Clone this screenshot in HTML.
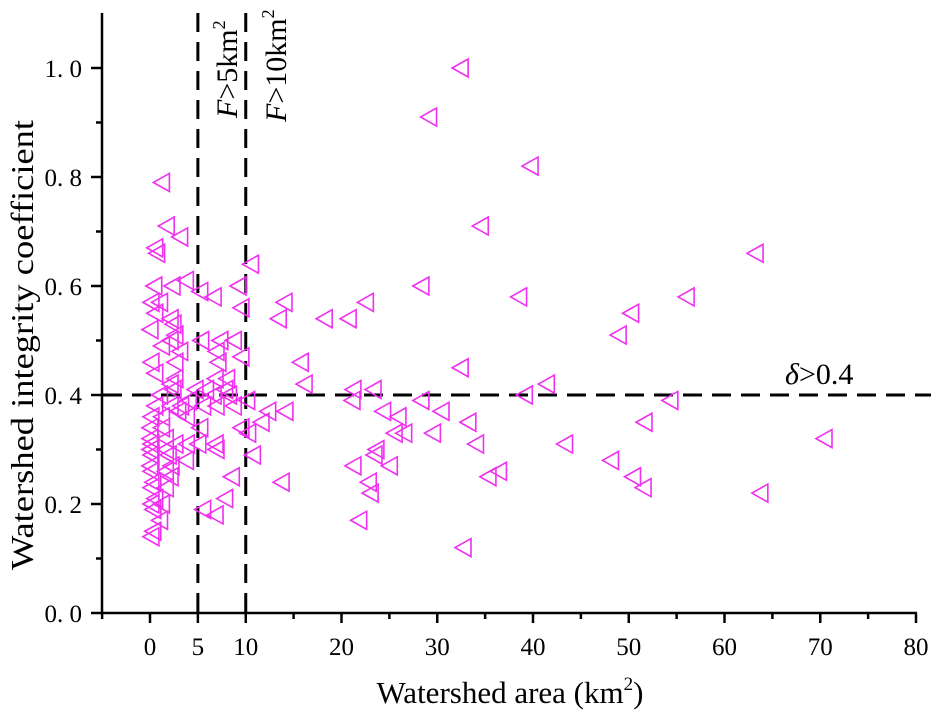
<!DOCTYPE html>
<html><head><meta charset="utf-8"><style>
body{margin:0;background:#fff;}
svg{display:block;font-family:"Liberation Serif","Noto Serif CJK SC",serif;}
</style></head><body>
<svg id="chart" width="931" height="715" viewBox="0 0 931 715" xmlns="http://www.w3.org/2000/svg">
<g id="axes"></g><g id="marks"></g>
<text transform="translate(33,345) rotate(-90)" text-anchor="middle" font-size="32" textLength="450" lengthAdjust="spacingAndGlyphs">Watershed integrity coefficient</text>
<text x="510" y="703" text-anchor="middle" font-size="31">Watershed area (km<tspan font-size="19" dy="-13">2</tspan><tspan dy="13">)</tspan></text>
<text x="785" y="384" font-size="30"><tspan font-style="italic">δ</tspan>&gt;0.4</text>
<text transform="translate(237,118) rotate(-90)" font-size="30"><tspan font-style="italic">F</tspan>&gt;5km<tspan font-size="18" dy="-12">2</tspan></text>
<text transform="translate(286,122) rotate(-90)" font-size="30"><tspan font-style="italic">F</tspan>&gt;10km<tspan font-size="18" dy="-12">2</tspan></text>
</svg>
<script>
const areas=[32.6,29.3,39.9,34.7,63.4,56.2,50.4,38.7,49.1,28.5,22.7,20.9,18.4,14.2,13.6,15.9,16.3,10.7,32.6,41.6,39.3,54.5,21.4,23.5,21.3,24.5,28.5,30.6,26.1,33.4,51.8,14.3,12.5,11.8,10.3,10.4,23.8,23.6,25.7,26.7,29.7,34.2,43.5,70.6,10.9,21.4,25.2,36.6,35.5,48.3,50.6,51.7,23.0,23.2,13.9,63.9,22.0,32.9,
1.4,1.9,3.3,0.7,0.9,3.9,2.5,0.6,5.4,6.8,9.4,9.7,0.3,1.2,0.7,2.3,2.6,0.2,2.8,5.5,7.5,8.9,2.3,1.4,3.3,7.1,2.8,0.3,7.3,9.7,0.7,2.8,7.0,8.2,2.3,2.6,4.9,6.0,8.0,1.2,4.2,6.8,8.4,0.7,2.3,3.4,5.7,7.1,8.9,3.1,4.0,0.3,1.4,5.4,9.7,0.2,1.4,0.2,1.8,0.3,2.8,4.0,7.0,0.2,1.8,5.2,7.1,0.3,2.1,3.9,0.2,2.4,1.8,0.3,2.3,0.5,8.7,1.8,0.3,0.7,8.0,1.4,0.3,0.5,5.7,7.0,1.2,0.5,0.3];
const coeffs=[1.0,0.91,0.82,0.71,0.66,0.58,0.55,0.58,0.51,0.60,0.57,0.54,0.54,0.57,0.54,0.46,0.42,0.64,0.45,0.42,0.40,0.39,0.41,0.41,0.39,0.37,0.39,0.37,0.36,0.35,0.35,0.37,0.37,0.35,0.39,0.33,0.30,0.29,0.33,0.33,0.33,0.31,0.31,0.32,0.29,0.27,0.27,0.26,0.25,0.28,0.25,0.23,0.24,0.22,0.24,0.22,0.17,0.12,
0.79,0.71,0.69,0.67,0.66,0.61,0.60,0.60,0.59,0.58,0.60,0.56,0.57,0.57,0.55,0.54,0.53,0.52,0.51,0.50,0.50,0.50,0.50,0.49,0.48,0.48,0.46,0.46,0.46,0.47,0.44,0.43,0.43,0.43,0.42,0.41,0.41,0.41,0.41,0.40,0.39,0.40,0.40,0.38,0.38,0.38,0.38,0.38,0.38,0.37,0.36,0.36,0.36,0.34,0.34,0.34,0.34,0.32,0.32,0.31,0.31,0.31,0.31,0.30,0.30,0.31,0.30,0.29,0.29,0.28,0.27,0.27,0.26,0.26,0.25,0.24,0.25,0.23,0.23,0.21,0.21,0.20,0.20,0.19,0.19,0.18,0.17,0.15,0.14];
const xTicks=[0,5,10,20,30,40,50,60,70,80];
const xMinor=[-5,15,25,35,45,55,65,75];
const yTicks=[0,0.2,0.4,0.6,0.8,1.0];
const yMinor=[0.1,0.3,0.5,0.7,0.9];
const yTickLabels=["0. 0","0. 2","0. 4","0. 6","0. 8","1. 0"];
const thresholdsX=[5,10];
const thresholdY=[0.4];
const X=v=>150+v*9.575;
const Y=v=>613-v*545;
const NS="http://www.w3.org/2000/svg";
const axes=document.getElementById('axes'),marks=document.getElementById('marks');
function mk(tag,attrs,parent){const e=document.createElementNS(NS,tag);for(const k in attrs)e.setAttribute(k,attrs[k]);parent.appendChild(e);return e;}
let e=mk('line',{x1:102,y1:613,x2:X(80)+1,y2:613,stroke:'#000','stroke-width':2.5},axes);


e=mk('line',{x1:102,y1:13,x2:102,y2:614,stroke:'#000','stroke-width':2.5},axes);


xTicks.forEach(v=>{
 const t=mk('line',{x1:X(v),y1:613,x2:X(v),y2:623,stroke:'#000','stroke-width':2.5},axes);
 
 
 const l=mk('text',{x:X(v),y:655,'text-anchor':'middle','font-size':25},axes);l.textContent=v;
 
 
});
xMinor.forEach(v=>{
 const t=mk('line',{x1:X(v),y1:613,x2:X(v),y2:619,stroke:'#000','stroke-width':2.5},axes);
 
 
});
yTicks.forEach((v,i)=>{
 const t=mk('line',{x1:91,y1:Y(v),x2:102,y2:Y(v),stroke:'#000','stroke-width':2.5},axes);
 
 
 const l=mk('text',{x:82,y:Y(v)+9,'text-anchor':'end','font-size':25},axes);l.textContent=yTickLabels[i];
 
 
});
yMinor.forEach(v=>{
 const t=mk('line',{x1:96,y1:Y(v),x2:102,y2:Y(v),stroke:'#000','stroke-width':2.5},axes);
 
 
});
thresholdsX.forEach(v=>{
 const t=mk('line',{x1:X(v),y1:13,x2:X(v),y2:613,stroke:'#000','stroke-width':3,'stroke-dasharray':'19 10'},axes);
 
 
});
thresholdY.forEach(v=>{
 const t=mk('line',{x1:103,y1:Y(v),x2:931,y2:Y(v),stroke:'#000','stroke-width':3,'stroke-dasharray':'19 10'},axes);
 
 
});
areas.forEach((a,i)=>{
 const cx=X(a),cy=Y(coeffs[i]);
 const p=mk('polygon',{points:`${cx-10},${cy} ${cx+6},${cy-9} ${cx+6},${cy+9}`,fill:'none',stroke:'#f030f0','stroke-width':1.6},marks);
 
 
});
</script>
</body></html>
